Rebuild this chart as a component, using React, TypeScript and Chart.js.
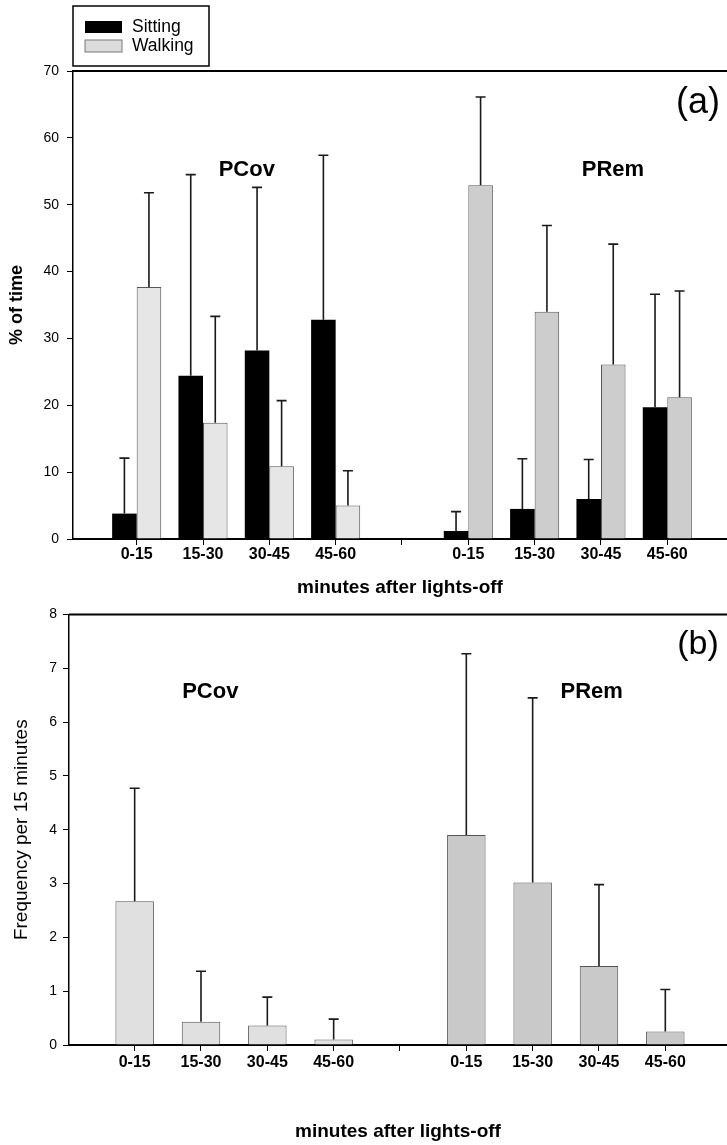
import React, { useEffect, useRef } from 'react';
import { Chart, registerables } from 'chart.js';

Chart.register(...registerables);

const FONT = '"Liberation Sans", Arial, Helvetica, sans-serif';

// ---------- data ----------
const categories = ['0-15', '15-30', '30-45', '45-60', '', '0-15', '15-30', '30-45', '45-60'];
const groupNames = ['PCov', 'PRem'];
const seriesNames = ['Sitting', 'Walking'];

const sittingPct = [3.8, 24.4, 28.2, 32.8, null, 1.2, 4.5, 6.0, 19.7];
const sittingPctErr = [8.3, 30.1, 24.4, 24.6, null, 2.9, 7.5, 5.9, 16.9];
const walkingPct = [37.7, 17.4, 10.9, 5.0, null, 52.9, 34.0, 26.1, 21.2];
const walkingPctErr = [14.1, 15.9, 9.8, 5.2, null, 13.2, 12.9, 18.0, 15.9];

const frequency = [2.67, 0.43, 0.36, 0.1, null, 3.9, 3.02, 1.47, 0.25];
const frequencyErr = [2.1, 0.94, 0.53, 0.38, null, 3.37, 3.43, 1.51, 0.78];

const pctTicks = [0, 10, 20, 30, 40, 50, 60, 70];
const freqTicks = [0, 1, 2, 3, 4, 5, 6, 7, 8];

const xTitle = 'minutes after lights-off';
const yTitleA = '% of time';
const yTitleB = 'Frequency per 15 minutes';

// ---------- helpers ----------
const xPositions = categories.map((_, i) => i + 1);
const gapIndex = categories.indexOf('');
const groupOf = (i: number) => (i < gapIndex ? 0 : 1);
const toPoints = (vals: (number | null)[]) => vals.map((v, i) => ({ x: xPositions[i], y: v }));

const LIGHT = ['#e6e6e6', '#cdcdcd'];
const LIGHT_B = ['#e0e0e0', '#c9c9c9'];

const errorBarsPlugin = {
  id: 'errorBars',
  afterDatasetsDraw(chart: any) {
    const { ctx } = chart;
    const yScale = chart.scales.y;
    chart.data.datasets.forEach((ds: any, di: number) => {
      const errs = ds.errorUp as (number | null)[];
      if (!errs) return;
      const meta = chart.getDatasetMeta(di);
      ctx.save();
      ctx.strokeStyle = '#1a1a1a';
      ctx.lineWidth = 1.6;
      meta.data.forEach((el: any, i: number) => {
        const v = ds.data[i].y;
        const e = errs[i];
        if (v == null || e == null) return;
        const top = yScale.getPixelForValue(v + e);
        ctx.beginPath();
        ctx.moveTo(el.x, el.y);
        ctx.lineTo(el.x, top);
        ctx.moveTo(el.x - 5, top);
        ctx.lineTo(el.x + 5, top);
        ctx.stroke();
      });
      ctx.restore();
    });
  },
};

function makeDecor(cfg: any) {
  return {
    id: 'panelDecor',
    afterDraw(chart: any) {
      const { ctx, chartArea, scales } = chart;
      ctx.save();
      ctx.strokeStyle = '#000';
      ctx.lineWidth = 2;
      ctx.beginPath();
      ctx.moveTo(chartArea.left, chartArea.top);
      ctx.lineTo(chartArea.right, chartArea.top);
      ctx.stroke();

      ctx.fillStyle = '#000';
      ctx.textAlign = 'center';
      ctx.textBaseline = 'middle';
      ctx.font = `bold ${cfg.groupFontSize}px ${FONT}`;
      cfg.groupLabels.forEach((g: any) => {
        ctx.fillText(g.text, scales.x.getPixelForValue(g.x), scales.y.getPixelForValue(g.y));
      });

      ctx.font = `${cfg.panelFontSize}px ${FONT}`;
      ctx.fillText(cfg.panelLabel, chartArea.right - cfg.panelDx, chartArea.top + cfg.panelDy);

      if (cfg.legend) {
        const L = cfg.legend;
        ctx.lineWidth = 1.5;
        ctx.strokeStyle = '#000';
        ctx.strokeRect(L.x, L.y, L.w, L.h);
        const ds = chart.data.datasets;
        ds.forEach((d: any, i: number) => {
          const sy = L.y + L.rowY[i];
          ctx.fillStyle = L.swatch[i];
          ctx.fillRect(L.x + 12, sy - 6, 37, 12);
          if (i > 0) {
            ctx.lineWidth = 1;
            ctx.strokeStyle = '#777';
            ctx.strokeRect(L.x + 12, sy - 6, 37, 12);
          }
          ctx.fillStyle = '#000';
          ctx.textAlign = 'left';
          ctx.font = `17.5px ${FONT}`;
          ctx.fillText(d.label, L.x + 59, sy);
        });
      }
      ctx.restore();
    },
  };
}

function baseX(min: number, max: number, height: number, tickPad: number, titlePadBottom: number) {
  return {
    type: 'linear',
    offset: false,
    min,
    max,
    afterBuildTicks: (s: any) => {
      s.ticks = xPositions.map((v) => ({ value: v }));
    },
    afterFit: (s: any) => {
      s.height = height;
    },
    ticks: {
      autoSkip: false,
      maxRotation: 0,
      padding: tickPad,
      color: '#000',
      font: { size: 16, weight: 'bold', family: FONT },
      callback: (_v: any, idx: number) => categories[idx],
    },
    grid: { display: true, offset: false, drawOnChartArea: false, drawTicks: true, tickLength: 6, color: '#000', lineWidth: 1 },
    border: { display: true, color: '#000', width: 2 },
    title: {
      display: true,
      text: xTitle,
      color: '#000',
      font: { size: 19, weight: 'bold', family: FONT },
      padding: { top: 0, bottom: titlePadBottom },
    },
  };
}

function baseY(max: number, ticks: number[], width: number, title: string, titleFont: any, titlePadTop: number, tickPad: number) {
  return {
    type: 'linear',
    min: 0,
    max,
    afterBuildTicks: (s: any) => {
      s.ticks = ticks.map((v) => ({ value: v }));
    },
    afterFit: (s: any) => {
      s.width = width;
    },
    ticks: { color: '#000', padding: tickPad, font: { size: 14, family: FONT } },
    grid: { display: true, drawOnChartArea: false, drawTicks: true, tickLength: 6, color: '#000', lineWidth: 1 },
    border: { display: true, color: '#000', width: 1.5 },
    title: { display: true, text: title, color: '#000', font: titleFont, padding: { top: titlePadTop, bottom: 0 } },
  };
}

export default function App() {
  const refA = useRef<HTMLCanvasElement>(null);
  const refB = useRef<HTMLCanvasElement>(null);

  useEffect(() => {
    Chart.defaults.font.family = FONT;
    const chartA = new Chart(refA.current as HTMLCanvasElement, {
      type: 'bar',
      data: {
        datasets: [
          {
            label: seriesNames[0],
            data: toPoints(sittingPct),
            errorUp: sittingPctErr,
            backgroundColor: '#000',
            borderColor: '#000',
            borderWidth: 0,
            categoryPercentage: 0.74,
            barPercentage: 1,
          } as any,
          {
            label: seriesNames[1],
            data: toPoints(walkingPct),
            errorUp: walkingPctErr,
            backgroundColor: categories.map((_, i) => LIGHT[groupOf(i)]),
            borderColor: '#555',
            borderWidth: 1,
            categoryPercentage: 0.74,
            barPercentage: 1,
          } as any,
        ],
      },
      options: {
        responsive: false,
        animation: false,
        devicePixelRatio: 1,
        layout: { padding: { top: 71, left: 0, right: 0, bottom: 0 } },
        plugins: { legend: { display: false }, tooltip: { enabled: false } },
        scales: {
          x: baseX(0.04, 9.9, 61, 0, 1) as any,
          y: baseY(70, pctTicks, 73, yTitleA, { size: 18, weight: 'bold', family: FONT }, 6.5, 8) as any,
        },
      },
      plugins: [
        errorBarsPlugin,
        makeDecor({
          groupFontSize: 22,
          groupLabels: [
            { text: groupNames[0], x: 2.66, y: 55.2 },
            { text: groupNames[1], x: 8.18, y: 55.2 },
          ],
          panelLabel: '(a)',
          panelFontSize: 36,
          panelDx: 29,
          panelDy: 32,
          legend: { x: 73, y: 6, w: 136, h: 60, rowY: [21, 40], swatch: ['#000', '#dcdcdc'] },
        }),
      ],
    } as any);

    const chartB = new Chart(refB.current as HTMLCanvasElement, {
      type: 'bar',
      data: {
        datasets: [
          {
            label: 'Frequency',
            data: toPoints(frequency),
            errorUp: frequencyErr,
            backgroundColor: categories.map((_, i) => LIGHT_B[groupOf(i)]),
            borderColor: '#555',
            borderWidth: 1,
            categoryPercentage: 0.58,
            barPercentage: 1,
          } as any,
        ],
      },
      options: {
        responsive: false,
        animation: false,
        devicePixelRatio: 1,
        layout: { padding: { top: 12.3, left: 0, right: 0, bottom: 0 } },
        plugins: { legend: { display: false }, tooltip: { enabled: false } },
        scales: {
          x: baseX(0.01, 9.93, 100, 2, 1.6) as any,
          y: baseY(8, freqTicks, 69, yTitleB, { size: 19, weight: 'normal', family: FONT }, 10.6, 6) as any,
        },
      },
      plugins: [
        errorBarsPlugin,
        makeDecor({
          groupFontSize: 22,
          groupLabels: [
            { text: groupNames[0], x: 2.14, y: 6.56 },
            { text: groupNames[1], x: 7.89, y: 6.56 },
          ],
          panelLabel: '(b)',
          panelFontSize: 34,
          panelDx: 29,
          panelDy: 30,
        }),
      ],
    } as any);

    return () => {
      chartA.destroy();
      chartB.destroy();
    };
  }, []);

  return (
    <div style={{ position: 'absolute', left: 0, top: 0, width: 727, height: 1145, overflow: 'hidden', background: '#fff' }}>
      <canvas ref={refA} width={727} height={600} style={{ position: 'absolute', left: 0, top: 0, width: 727, height: 600 }} />
      <canvas ref={refB} width={727} height={545} style={{ position: 'absolute', left: 0, top: 600, width: 727, height: 545 }} />
    </div>
  );
}
